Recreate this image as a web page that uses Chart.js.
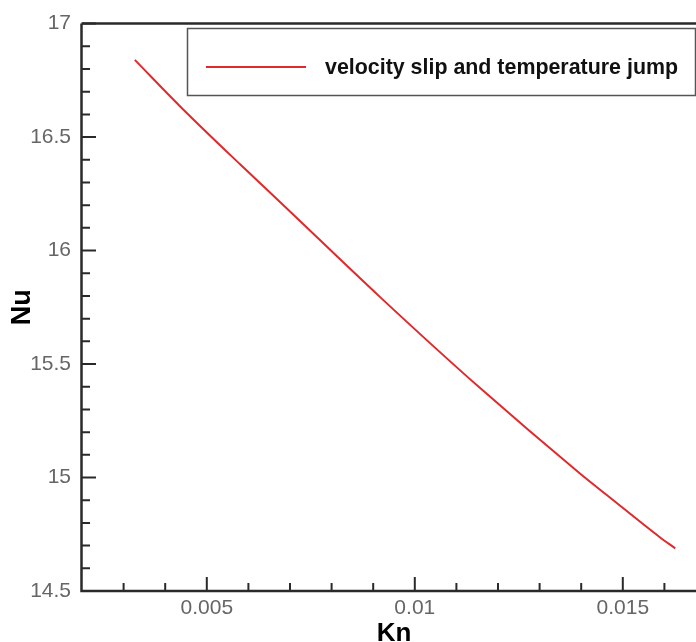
<!DOCTYPE html>
<html>
<head>
<meta charset="utf-8">
<script src="https://cdn.jsdelivr.net/npm/chart.js@4/dist/chart.umd.min.js"></script>
<style>
html,body{margin:0;padding:0;background:#fff;overflow:hidden;width:696px;height:642px;}
#wrap{position:absolute;left:0;top:0;width:706px;height:642px;}
</style>
</head>
<body>
<div id="wrap"><canvas id="c" width="706" height="642"></canvas></div>
<script>
// Data
const knValues = [0.00327, 0.00436, 0.00580, 0.00676, 0.00916, 0.01157, 0.01397, 0.01469, 0.01589, 0.01626];
const nuValues = [16.840, 16.635, 16.380, 16.214, 15.796, 15.394, 15.018, 14.912, 14.737, 14.688];
const seriesLabel = 'velocity slip and temperature jump';
const xTickLabels = [0.005, 0.01, 0.015];
const xMinorTicks = [0.003, 0.004, 0.006, 0.007, 0.008, 0.009, 0.011, 0.012, 0.013, 0.014, 0.016];
const yTickLabels = [14.5, 15, 15.5, 16, 16.5, 17];
const yMinorTicks = [14.6, 14.7, 14.8, 14.9, 15.1, 15.2, 15.3, 15.4, 15.6, 15.7, 15.8, 15.9, 16.1, 16.2, 16.3, 16.4, 16.6, 16.7, 16.8, 16.9];

const points = knValues.map((k, i) => ({x: k, y: nuValues[i]}));

const axisPlugin = {
  id: 'axesFrame',
  afterDatasetsDraw(chart) {
    const {ctx, chartArea: a, scales: {x, y}} = chart;
    ctx.save();
    ctx.strokeStyle = '#2a2a2a';
    ctx.lineWidth = 2.5;
    ctx.beginPath();
    ctx.moveTo(a.left - 0.5, a.top);
    ctx.lineTo(a.left - 0.5, a.bottom);
    ctx.lineTo(a.right, a.bottom);
    ctx.moveTo(a.left - 0.5, a.top);
    ctx.lineTo(a.right, a.top);
    ctx.stroke();
    ctx.lineWidth = 2;
    ctx.beginPath();
    xTickLabels.forEach(v => { const px = x.getPixelForValue(v); ctx.moveTo(px, a.bottom); ctx.lineTo(px, a.bottom - 14); });
    xMinorTicks.forEach(v => { const px = x.getPixelForValue(v); ctx.moveTo(px, a.bottom); ctx.lineTo(px, a.bottom - 8); });
    yTickLabels.forEach(v => { const py = y.getPixelForValue(v); ctx.moveTo(a.left, py); ctx.lineTo(a.left + 14, py); });
    yMinorTicks.forEach(v => { const py = y.getPixelForValue(v); ctx.moveTo(a.left, py); ctx.lineTo(a.left + 8, py); });
    ctx.stroke();
    ctx.restore();
  }
};

const legendPlugin = {
  id: 'insideLegend',
  afterDraw(chart) {
    const {ctx} = chart;
    const ds = chart.data.datasets[0];
    ctx.save();
    ctx.strokeStyle = '#555';
    ctx.lineWidth = 1.5;
    ctx.strokeRect(187.5, 28.5, 508, 67);
    ctx.strokeStyle = ds.borderColor;
    ctx.lineWidth = 2;
    ctx.beginPath();
    ctx.moveTo(206, 67);
    ctx.lineTo(306, 67);
    ctx.stroke();
    ctx.fillStyle = '#111';
    ctx.font = 'bold 21.4px "Liberation Sans", Arial, sans-serif';
    ctx.textBaseline = 'middle';
    ctx.textAlign = 'left';
    ctx.fillText(ds.label, 325, 68);
    ctx.restore();
  }
};

new Chart(document.getElementById('c'), {
  type: 'scatter',
  data: {
    datasets: [{
      label: seriesLabel,
      data: points,
      showLine: true,
      borderColor: '#e0292b',
      borderWidth: 2,
      pointRadius: 0,
      fill: false,
      cubicInterpolationMode: 'monotone'
    }]
  },
  options: {
    responsive: false,
    animation: false,
    devicePixelRatio: 1,
    layout: {padding: {top: 22, right: 0, left: 0, bottom: 0}},
    plugins: {legend: {display: false}, tooltip: {enabled: false}},
    scales: {
      x: {
        type: 'linear',
        min: 0.002,
        max: 0.017,
        border: {display: false},
        grid: {display: false, drawTicks: false},
        afterBuildTicks: s => { s.ticks = xTickLabels.map(v => ({value: v})); },
        afterFit: s => { s.height = 51; },
        ticks: {
          autoSkip: false,
          maxRotation: 0,
          padding: 5,
          color: '#666',
          font: {family: '"Liberation Sans", Arial, sans-serif', size: 21},
          callback: v => String(v)
        },
        title: {
          display: true,
          text: 'Kn',
          color: '#000',
          padding: {top: 0, bottom: -7},
          font: {family: '"Liberation Sans", Arial, sans-serif', size: 26, weight: 'bold'}
        }
      },
      y: {
        type: 'linear',
        min: 14.5,
        max: 17,
        border: {display: false},
        grid: {display: false, drawTicks: false},
        afterBuildTicks: s => { s.ticks = yTickLabels.map(v => ({value: v})); },
        afterFit: s => { s.width = 82; },
        ticks: {
          autoSkip: false,
          padding: 11,
          color: '#666',
          font: {family: '"Liberation Sans", Arial, sans-serif', size: 21},
          callback: v => String(v)
        },
        title: {
          display: true,
          text: 'Nu',
          color: '#000',
          padding: {top: 6, bottom: 0},
          font: {family: '"Liberation Sans", Arial, sans-serif', size: 27, weight: 'bold'}
        }
      }
    }
  },
  plugins: [axisPlugin, legendPlugin]
});
</script>
</body>
</html>
